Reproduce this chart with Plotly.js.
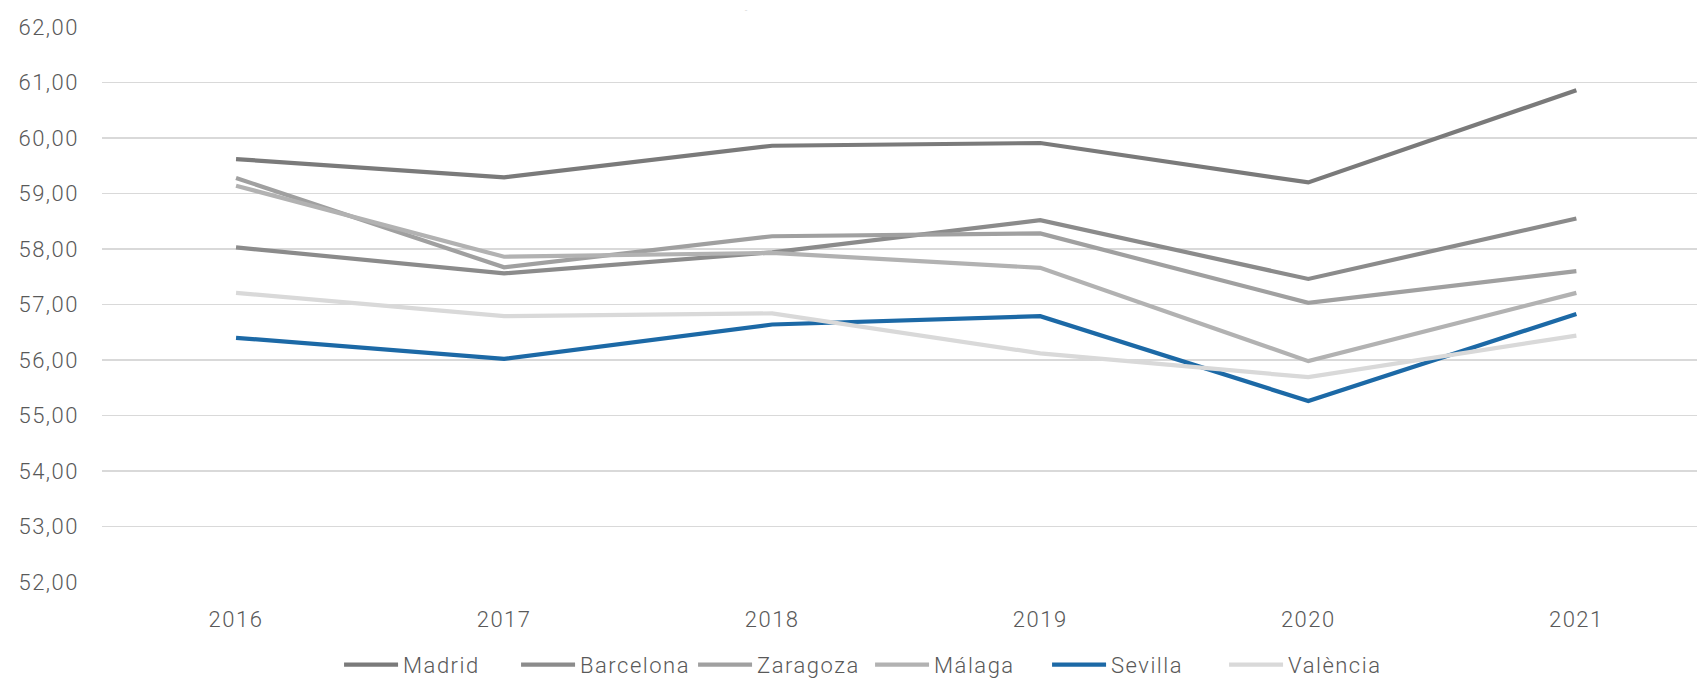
<!DOCTYPE html>
<html>
<head>
<meta charset="utf-8">
<script src="https://cdn.plot.ly/plotly-3.0.1.min.js"></script>
<style>
  html, body { margin: 0; padding: 0; background: #ffffff; }
  #chart { width: 1697px; height: 679px; }
  svg text { letter-spacing: 1.5px; }
</style>
</head>
<body>
<div id="chart"></div>
<script>
const years = ['2016', '2017', '2018', '2019', '2020', '2021'];

const madrid    = [59.62, 59.29, 59.86, 59.91, 59.20, 60.86];
const barcelona = [58.03, 57.56, 57.94, 58.52, 57.46, 58.55];
const zaragoza  = [59.28, 57.67, 58.23, 58.28, 57.03, 57.60];
const malaga    = [59.14, 57.86, 57.93, 57.66, 55.98, 57.21];
const sevilla   = [56.40, 56.02, 56.64, 56.79, 55.26, 56.83];
const valencia  = [57.21, 56.79, 56.84, 56.12, 55.69, 56.44];

const seriesNames = ['Madrid', 'Barcelona', 'Zaragoza', 'Málaga', 'Sevilla', 'València'];
const seriesValues = [madrid, barcelona, zaragoza, malaga, sevilla, valencia];
const seriesColors = ['#7a7a7a', '#8b8b8b', '#a0a0a0', '#b2b2b2', '#1c69a6', '#d9d9d9'];

const traces = seriesNames.map((name, i) => ({
  type: 'scatter',
  mode: 'lines',
  name: name,
  x: years,
  y: seriesValues[i],
  line: { color: seriesColors[i], width: 4.2 },
  hoverinfo: 'x+y+name'
}));

const font = { family: 'Roboto, "Liberation Sans", Arial, sans-serif', color: '#595959', size: 22, weight: 300 };

const layout = {
  width: 1697,
  height: 679,
  margin: { l: 102, r: 0, t: 27, b: 97, pad: 0 },
  paper_bgcolor: '#ffffff',
  plot_bgcolor: '#ffffff',
  separators: ',.',
  font: font,
  showlegend: true,
  title: {
    text: '-',
    font: { size: 9, color: '#c8c8c8' },
    x: 0.44,
    xanchor: 'center',
    y: 0.99,
    yanchor: 'top'
  },
  xaxis: {
    type: 'category',
    range: [-0.5, 5.45],
    showgrid: false,
    zeroline: false,
    showline: false,
    ticks: '',
    ticklabelstandoff: 22,
    tickfont: font,
    fixedrange: true
  },
  yaxis: {
    range: [52, 62],
    dtick: 1,
    tick0: 52,
    tickformat: '.2f',
    showgrid: true,
    gridcolor: '#d9d9d9',
    gridwidth: 1.2,
    zeroline: false,
    showline: false,
    ticks: '',
    ticklabelstandoff: 22,
    tickfont: font,
    fixedrange: true
  },
  legend: {
    orientation: 'h',
    xref: 'container',
    yref: 'container',
    x: 0.1998,
    xanchor: 'left',
    y: 0.021,
    yanchor: 'middle',
    font: font,
    itemwidth: 54,
    entrywidth: 108,
    entrywidthmode: 'pixels',
    tracegroupgap: 0,
    bgcolor: 'rgba(0,0,0,0)'
  }
};

Plotly.newPlot('chart', traces, layout, { displayModeBar: false, staticPlot: true });
</script>
</body>
</html>
